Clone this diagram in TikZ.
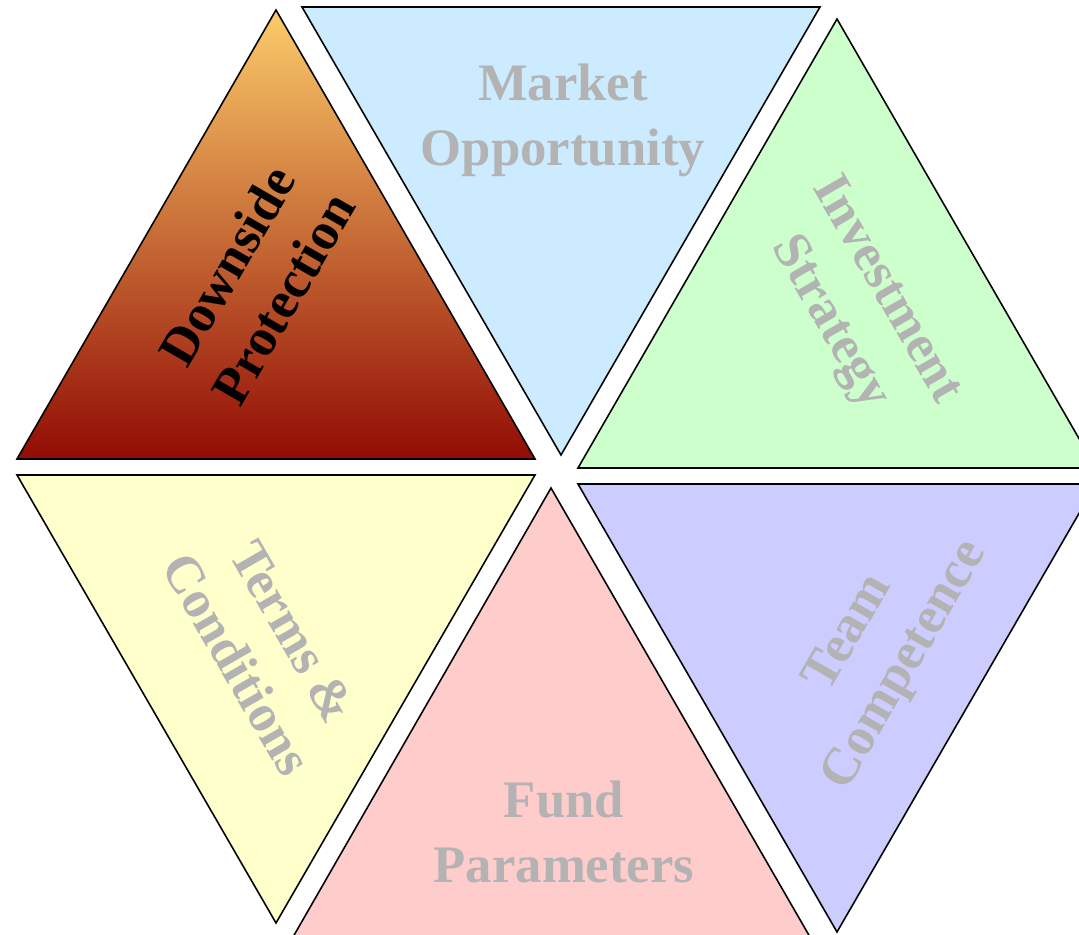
\documentclass[tikz,border=0pt]{standalone}
\usepackage{fontspec}
\setmainfont{Liberation Serif}
\usepackage{xcolor}
\usetikzlibrary{calc}

\definecolor{dpTop}{RGB}{252,204,106}
\definecolor{dpMid}{RGB}{212,138,78}
\definecolor{dpBottom}{RGB}{146,12,4}
\definecolor{moFill}{HTML}{CCEBFF}
\definecolor{isFill}{HTML}{CCFFCC}
\definecolor{tcFill}{HTML}{FFFFCC}
\definecolor{fpFill}{HTML}{FFCCCC}
\definecolor{teamFill}{HTML}{CCCCFF}
\definecolor{lblGray}{RGB}{179,179,179}

\begin{document}
\begin{tikzpicture}[x=0.02cm,y=-0.02cm,
  tri/.style={draw=black,line width=0.9pt,line join=miter},
  lbl/.style={font=\fontsize{30}{37}\selectfont\bfseries,align=center,text=lblGray}]
\clip (0,0) rectangle (1079,935);

% Downside Protection
\coordinate (D1) at (276,10);
\coordinate (D2) at (17,459);
\coordinate (D3) at (535,459);
% Market Opportunity
\coordinate (M1) at (302,7);
\coordinate (M2) at (820,7);
\coordinate (M3) at (561,455);
% Investment Strategy
\coordinate (I1) at (837,19);
\coordinate (I2) at (578,468);
\coordinate (I3) at (1096,468);
% Terms & Conditions
\coordinate (T1) at (17,475);
\coordinate (T2) at (535,475);
\coordinate (T3) at (276,923);
% Fund Parameters
\coordinate (F1) at (551,488);
\coordinate (F2) at (293,937);
\coordinate (F3) at (810,937);
% Team Competence
\coordinate (C1) at (578,484);
\coordinate (C2) at (1096,484);
\coordinate (C3) at (837,932);

\shade[top color=dpTop,middle color=dpMid,bottom color=dpBottom] (D1) -- (D2) -- (D3) -- cycle;
\draw[tri] (D1) -- (D2) -- (D3) -- cycle;
\draw[tri,fill=moFill] (M1) -- (M2) -- (M3) -- cycle;
\draw[tri,fill=isFill] (I1) -- (I2) -- (I3) -- cycle;
\draw[tri,fill=tcFill] (T1) -- (T2) -- (T3) -- cycle;
\draw[tri,fill=fpFill] (F1) -- (F2) -- (F3) -- cycle;
\draw[tri,fill=teamFill] (C1) -- (C2) -- (C3) -- cycle;

\node[lbl,text=black,rotate=60] (dpText) at (255,282) {Downside\\Protection};
\node[lbl] (moText) at (563,120) {Market\\Opportunity};
\node[lbl,rotate=-60] (isText) at (857,307) {Investment\\Strategy};
\node[lbl,rotate=-60] (tcText) at (265,648) {Terms \&\\Conditions};
\node[lbl] (fpText) at (564,832) {Fund\\Parameters};
\node[lbl,rotate=60] (teamText) at (878,650) {Team\\Competence};
\end{tikzpicture}
\end{document}
